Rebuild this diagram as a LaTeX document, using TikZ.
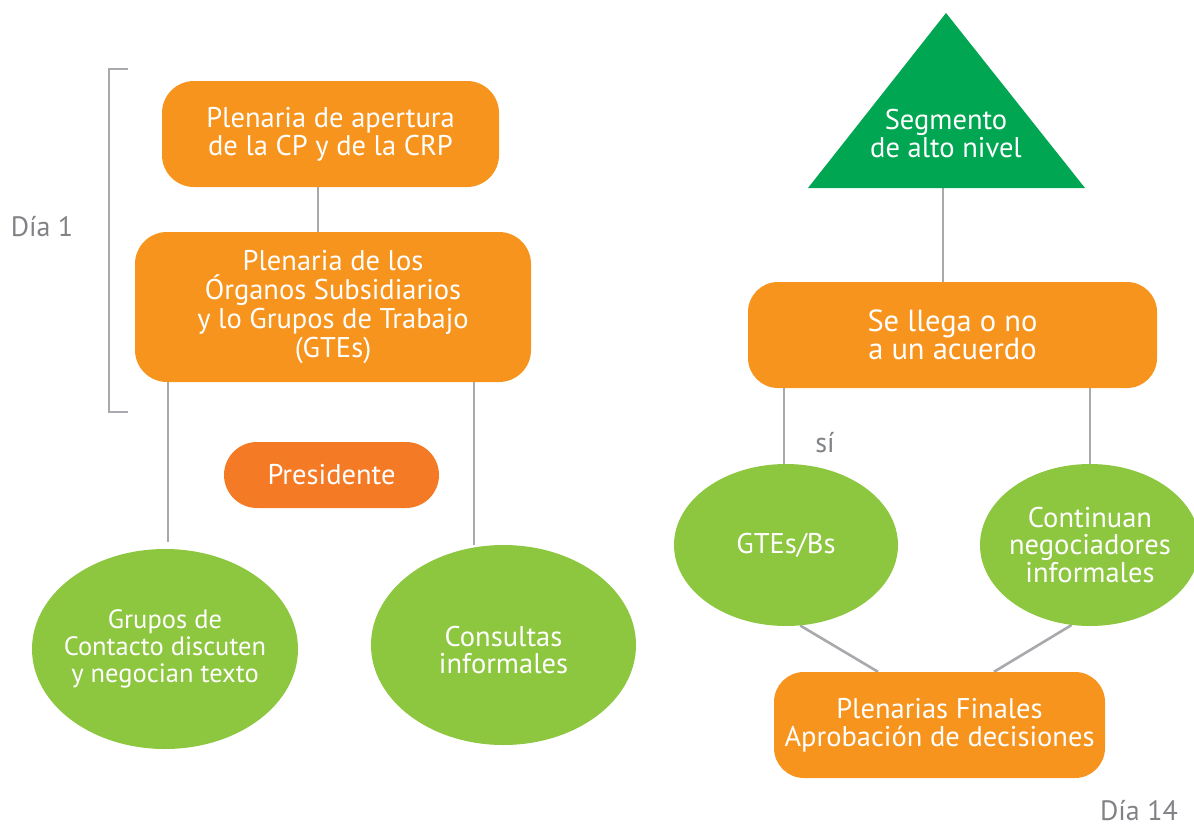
\documentclass[tikz,border=0pt]{standalone}
\usepackage{fontspec}
\setmainfont{PT Sans}
\usetikzlibrary{shapes.geometric,backgrounds}
\definecolor{orangeA}{HTML}{F7941E}
\definecolor{orangeB}{HTML}{F47A25}
\definecolor{greenL}{HTML}{8DC63F}
\definecolor{greenD}{HTML}{00A651}
\definecolor{lineG}{HTML}{A7A9AC}
\definecolor{textG}{HTML}{808285}
\tikzset{
  obox/.style={rectangle, rounded corners=32pt, fill=orangeA, text=white, align=center, inner sep=0pt, font=\fontsize{28.5}{28}\selectfont},
  gell/.style={ellipse, fill=greenL, inner sep=0pt},
  wtext/.style={text=white, align=center, inner sep=0pt, font=\fontsize{28.5}{27.5}\selectfont},
  conn/.style={draw=lineG, line width=2.6pt},
  glabel/.style={text=textG, inner sep=0pt, font=\fontsize{28}{28}\selectfont}
}
\begin{document}
\begin{tikzpicture}[x=1pt,y=-1pt]
\useasboundingbox (0,0) rectangle (1194,827);
% left column
\node[obox, minimum width=337pt, minimum height=106pt] (b1) at (330.5,134) {Plenaria de apertura\\de la CP y de la CRP};
\node[obox, minimum width=396pt, minimum height=150pt, font=\fontsize{28.5}{29}\selectfont] (b2) at (333,307) {Plenaria de los\\Órganos Subsidiarios\\y lo Grupos de Trabajo\\(GTEs)};
\node[obox, fill=orangeB, rounded corners=33pt, minimum width=215pt, minimum height=66pt] (pres) at (331.5,475) {Presidente};
\node[gell, minimum width=266pt, minimum height=200pt] (eL) at (165,649) {};
\node[wtext, font=\fontsize{26.5}{27}\selectfont] (eLt) at (eL.center) {Grupos de\\Contacto discuten\\y negocian texto};
\node[gell, minimum width=265pt, minimum height=200pt] (eR) at (503.5,645) {};
\node[wtext] (eRt) at (503.5,650) {Consultas\\informales};
% bracket and day labels
\coordinate (brT) at (128,69);
\coordinate (brB) at (128,412);
\draw[conn] (brT) -- ++(-19,0) |- (brB);
\node[glabel] (d1) at (42,227) {Día 1};
\node[glabel] (d14) at (1139,811) {Día 14};
% right column
\coordinate (tA) at (946,13);
\coordinate (tL) at (808,188);
\coordinate (tR) at (1085,188);
\fill[greenD] (tA) -- (tL) -- (tR) -- cycle;
\coordinate (tB) at (943,188);
\node[wtext, font=\fontsize{28.5}{28}\selectfont] (seg) at (946,134) {Segmento\\de alto nivel};
\node[obox, rounded corners=30pt, minimum width=409pt, minimum height=106pt, font=\fontsize{30.5}{28}\selectfont] (b3) at (952.5,335) {Se llega o no\\a un acuerdo};
\node[gell, minimum width=224pt, minimum height=162pt] (eG) at (786,545) {};
\node[wtext] (eGt) at (eG.center) {GTEs/Bs};
\node[gell, minimum width=220pt, minimum height=162pt] (eC) at (1090,545) {};
\node[wtext] (eCt) at (eC.center) {Continuan\\negociadores\\informales};
\node[obox, rounded corners=30pt, minimum width=331pt, minimum height=106pt] (b4) at (939.5,725) {Plenarias Finales\\Aprobación de decisiones};
\node[glabel] (si) at (825,443) {sí};
% connector x positions
\coordinate (x318) at (318,0);
\coordinate (x168) at (168,0);
\coordinate (x474) at (474,0);
\coordinate (x784) at (784,0);
\coordinate (x1090) at (1090,0);
\coordinate (x878) at (878,0);
\coordinate (x994) at (994,0);
\coordinate (endL) at (168,542);
\begin{scope}[on background layer]
\draw[conn] (b1.south -| x318) -- (b2.north -| x318);
\draw[conn] (b2.south -| x168) -- (endL);
\draw[conn] (b2.south -| x474) -- (eR.north -| x474);
\draw[conn] (tB) -- (b3.north -| tB);
\draw[conn] (b3.south -| x784) -- (eG.north -| x784);
\draw[conn] (b3.south -| x1090) -- (eC.north -| x1090);
\draw[conn] (eG.-80) -- (b4.north -| x878);
\draw[conn] (eC.-103) -- (b4.north -| x994);
\end{scope}
\end{tikzpicture}
\end{document}
